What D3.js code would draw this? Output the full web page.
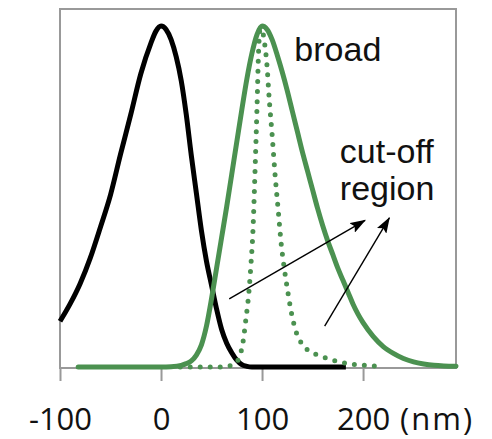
<!DOCTYPE html>
<html>
<head>
  <meta charset="utf-8">
  <script src="https://d3js.org/d3.v7.min.js"></script>
  <style>
    body { margin: 0; background: #fff; }
    svg { display: block; }
  </style>
</head>
<body>
<script>
  // ---- data (x in nm, y relative intensity) ----
  var blackNm  = [-100, -90, -80, -70, -60, -50, -40, -30, -20, -10, -5, 0, 5, 10, 15, 20, 25, 30, 35, 40, 45, 50, 55, 60, 65, 70, 75, 80, 85, 90, 183];
  var blackVal = [0.134, 0.185, 0.245, 0.32, 0.41, 0.505, 0.625, 0.74, 0.86, 0.95, 0.985, 1.0, 0.99, 0.96, 0.91, 0.84, 0.74, 0.62, 0.51, 0.40, 0.31, 0.24, 0.17, 0.11, 0.07, 0.042, 0.02, 0.007, 0.002, 0, 0];

  var broadNm  = [-82, 0, 10, 20, 25, 30, 35, 40, 45, 50, 55, 60, 65, 70, 75, 80, 85, 90, 95, 100, 105, 110, 115, 120, 125, 130, 135, 140, 145, 150, 155, 160, 165, 170, 175, 180, 185, 190, 195, 200, 210, 220, 230, 240, 250, 260, 270, 280, 292];
  var broadVal = [0, 0, 0.001, 0.005, 0.01, 0.018, 0.035, 0.065, 0.12, 0.20, 0.29, 0.38, 0.47, 0.565, 0.66, 0.755, 0.845, 0.92, 0.975, 1.0, 0.99, 0.96, 0.915, 0.865, 0.81, 0.75, 0.69, 0.63, 0.575, 0.52, 0.465, 0.415, 0.37, 0.33, 0.29, 0.255, 0.22, 0.185, 0.155, 0.13, 0.09, 0.06, 0.04, 0.025, 0.015, 0.009, 0.005, 0.003, 0.002];

  var cutNm  = [19, 40, 60, 70, 75, 78, 81, 84, 87, 89, 91, 93, 95, 96.5, 98, 100, 102, 105, 107, 110, 113, 116, 119, 122, 125, 129, 133, 138, 145, 155, 165, 175, 190, 205, 217];
  var cutVal = [0, 0, 0, 0.005, 0.015, 0.033, 0.07, 0.14, 0.22, 0.30, 0.40, 0.57, 0.76, 0.92, 0.99, 0.99, 0.96, 0.88, 0.79, 0.68, 0.56, 0.46, 0.36, 0.29, 0.23, 0.16, 0.11, 0.075, 0.05, 0.035, 0.025, 0.016, 0.008, 0.004, 0.002];

  var tickVals = [-100, 0, 100, 200];
  var unitLabel = "(nm)";

  // annotations, in data units
  var labels = [
    {text: "broad",   x: 132, y: 0.897},
    {text: "cut-off", x: 177, y: 0.598},
    {text: "region",  x: 177, y: 0.490}
  ];
  var arrows = [
    {x1: 67.5, y1: 0.20, x2: 202, y2: 0.43},
    {x1: 162,  y1: 0.12, x2: 226, y2: 0.437}
  ];

  var green = "#4b9150";

  var W = 492, H = 439;
  var plotL = 60, plotR = 456, plotT = 9, plotB = 368;

  var x = d3.scaleLinear().domain([-100, 292]).range([plotL, plotR]);
  var y = d3.scaleLinear().domain([0, 1]).range([367, 26]);

  var svg = d3.select("body").append("svg")
      .attr("width", W)
      .attr("height", H);

  var defs = svg.append("defs");
  defs.append("marker")
      .attr("id", "head")
      .attr("markerUnits", "userSpaceOnUse")
      .attr("viewBox", "0 0 16 11")
      .attr("markerWidth", 16)
      .attr("markerHeight", 11)
      .attr("refX", 15)
      .attr("refY", 5.5)
      .attr("orient", "auto")
    .append("path")
      .attr("d", "M0,0 L16,5.5 L0,11 L3,5.5 z")
      .attr("fill", "#000");

  // frame
  svg.append("rect")
      .attr("x", plotL)
      .attr("y", plotT)
      .attr("width", plotR - plotL)
      .attr("height", plotB - plotT)
      .attr("fill", "none")
      .attr("stroke", "#999")
      .attr("stroke-width", 2);

  // x axis
  var xAxis = d3.axisBottom(x)
      .tickValues(tickVals)
      .tickSize(13)
      .tickFormat(function (d) { return String(d); });

  var gx = svg.append("g")
      .attr("transform", "translate(0," + plotB + ")")
      .call(xAxis);
  gx.select(".domain").remove();
  gx.selectAll(".tick line")
      .attr("stroke", "#999")
      .attr("stroke-width", 2);
  gx.selectAll(".tick text")
      .attr("y", 62)
      .attr("dy", null)
      .attr("fill", "#111")
      .style("font-family", "'Open Sans', sans-serif")
      .style("font-size", "31px");

  svg.append("text")
      .attr("x", x(200) + 37)
      .attr("y", plotB + 62)
      .attr("fill", "#111")
      .style("font-family", "'Open Sans', sans-serif")
      .style("font-size", "31px")
      .style("letter-spacing", "2px")
      .text(unitLabel);

  function series(nm, val) {
    return nm.map(function (d, i) { return [d, val[i]]; });
  }

  var line = d3.line()
      .x(function (d) { return x(d[0]); })
      .y(function (d) { return y(d[1]); })
      .curve(d3.curveMonotoneX);

  // black: source
  svg.append("path")
      .datum(series(blackNm, blackVal))
      .attr("d", line)
      .attr("fill", "none")
      .attr("stroke", "#000")
      .attr("stroke-width", 5)
      .attr("stroke-linejoin", "round");

  // green solid: broad
  svg.append("path")
      .datum(series(broadNm, broadVal))
      .attr("d", line)
      .attr("fill", "none")
      .attr("stroke", green)
      .attr("stroke-width", 5)
      .attr("stroke-linejoin", "round")
      .attr("stroke-linecap", "round");

  // green dotted: cut-off
  svg.append("path")
      .datum(series(cutNm, cutVal))
      .attr("d", line)
      .attr("fill", "none")
      .attr("stroke", green)
      .attr("stroke-width", 5)
      .attr("stroke-linecap", "round")
      .attr("stroke-dasharray", "0 10");

  // arrows
  svg.selectAll(".arrow")
      .data(arrows)
      .enter()
      .append("line")
        .attr("class", "arrow")
        .attr("x1", function (d) { return x(d.x1); })
        .attr("y1", function (d) { return y(d.y1); })
        .attr("x2", function (d) { return x(d.x2); })
        .attr("y2", function (d) { return y(d.y2); })
        .attr("stroke", "#000")
        .attr("stroke-width", 1.4)
        .attr("marker-end", "url(#head)");

  // labels
  svg.selectAll(".label")
      .data(labels)
      .enter()
      .append("text")
        .attr("class", "label")
        .attr("x", function (d) { return x(d.x); })
        .attr("y", function (d) { return y(d.y); })
        .attr("fill", "#111")
        .style("font-family", "'Liberation Sans', Arial, sans-serif")
        .style("font-size", "34px")
        .text(function (d) { return d.text; });
</script>
</body>
</html>
